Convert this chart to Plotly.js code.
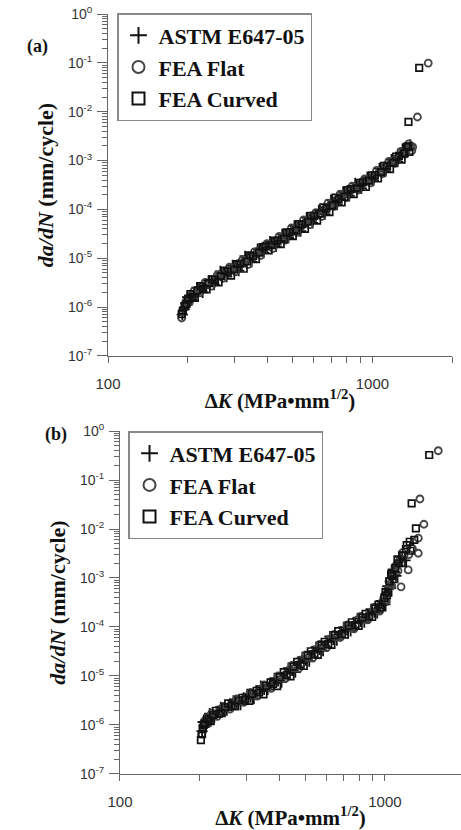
<!DOCTYPE html>
<html>
<head>
<meta charset="utf-8">
<script src="https://cdn.plot.ly/plotly-3.0.1.min.js"></script>
<style>html,body{margin:0;padding:0;background:#fff;}#chart{width:461px;height:830px;}</style>
</head>
<body>
<div id="chart"></div>
<script>
const seriesNames = ["ASTM E647-05", "FEA Flat", "FEA Curved"];

// ---------- Panel (a) : ΔK (MPa·mm^1/2) and da/dN (mm/cycle) ----------
const aAstmK = [191,197,203,212,222,233,246,259,273,288,304,321,339,358,378,399,421,444,468,494,521,549,579,611,644,679,716,755,796,839,885,933,984,1037,1094,1153,1216,1282,1340,
  194,200,207,217,228,240,252,266,281,296,312,330,349,368,388,410,432,456,481,507,535,564,594,627,661,697,735,775,817,861,908,957,1009,1063,1121,1181,1245,1300,1390];
const aAstmY = [7.0e-7,1.2e-6,1.4e-6,1.9e-6,2.3e-6,2.6e-6,3.4e-6,3.8e-6,4.9e-6,5.4e-6,6.8e-6,7.6e-6,9.8e-6,1.15e-5,1.5e-5,1.65e-5,2.0e-5,2.3e-5,2.9e-5,3.5e-5,4.3e-5,5.0e-5,6.2e-5,7.1e-5,8.9e-5,1.1e-4,1.4e-4,1.7e-4,2.2e-4,2.4e-4,3.0e-4,3.5e-4,4.2e-4,5.3e-4,6.5e-4,8.6e-4,1.0e-3,1.3e-3,1.6e-3,
  9.0e-7,1.6e-6,1.4e-6,2.5e-6,2.0e-6,3.5e-6,2.9e-6,5.4e-6,4.2e-6,7.2e-6,5.6e-6,1.1e-5,8.4e-6,1.55e-5,1.3e-5,2.2e-5,1.75e-5,3.1e-5,2.6e-5,4.6e-5,3.6e-5,6.8e-5,5.3e-5,9.6e-5,8.0e-5,1.55e-4,1.25e-4,2.3e-4,1.9e-4,3.4e-4,2.7e-4,4.6e-4,3.9e-4,6.9e-4,6.1e-4,1.05e-3,9.5e-4,1.7e-3,2.1e-3];

const aFlatK = [190,194,199,206,215,225,238,250,264,280,296,312,330,349,368,388,410,432,456,481,507,535,564,594,627,661,697,735,775,817,861,908,957,1009,1063,1121,1181,1245,1300,1350,1395,1420,1480,1626,
  197,203,211,222,233,246,259,273,288,304,321,339,358,378,399,421,444,468,494,521,549,579,611,644,679,716,755,796,839,885,933,984,1037,1094,1153,1216,1282,1330,1372,1410];
const aFlatY = [6.0e-7,9.5e-7,1.25e-6,1.7e-6,1.9e-6,2.6e-6,2.9e-6,3.3e-6,4.6e-6,4.9e-6,6.3e-6,6.8e-6,9.2e-6,1.0e-5,1.4e-5,1.5e-5,1.9e-5,2.1e-5,2.7e-5,3.1e-5,4.0e-5,4.5e-5,5.9e-5,6.4e-5,8.0e-5,9.5e-5,1.3e-4,1.45e-4,2.0e-4,2.2e-4,2.9e-4,3.1e-4,4.0e-4,4.4e-4,6.0e-4,7.0e-4,9.5e-4,1.1e-3,1.5e-3,1.8e-3,2.0e-3,1.9e-3,7.8e-3,9.9e-2,
  1.3e-6,1.25e-6,2.1e-6,1.95e-6,3.2e-6,2.7e-6,4.5e-6,3.9e-6,6.6e-6,5.3e-6,9.0e-6,7.5e-6,1.35e-5,1.15e-5,2.0e-5,1.6e-5,2.8e-5,2.35e-5,4.2e-5,3.4e-5,6.1e-5,4.9e-5,8.6e-5,7.2e-5,1.35e-4,1.15e-4,2.05e-4,1.75e-4,3.0e-4,2.5e-4,4.2e-4,3.5e-4,6.3e-4,5.4e-4,9.6e-4,8.8e-4,1.55e-3,1.35e-3,2.2e-3,1.6e-3];

const aCurvK = [192,195,201,209,218,229,241,254,268,284,300,317,335,354,373,394,415,438,462,487,514,542,571,602,635,670,706,745,785,828,873,920,970,1022,1078,1136,1197,1260,1320,1365,1369,1503,
  190,198,205,213,224,236,248,262,276,292,308,326,344,363,384,405,427,450,474,500,528,556,586,618,652,688,725,765,806,850,897,945,997,1050,1107,1166,1230,1290,1345,1380];
const aCurvY = [8.5e-7,1.05e-6,1.5e-6,1.6e-6,2.2e-6,2.4e-6,3.1e-6,3.6e-6,4.3e-6,5.3e-6,5.9e-6,7.8e-6,8.6e-6,1.1e-5,1.3e-5,1.75e-5,1.85e-5,2.3e-5,2.5e-5,3.4e-5,3.7e-5,5.0e-5,5.6e-5,7.4e-5,8.2e-5,1.05e-4,1.2e-4,1.6e-4,1.8e-4,2.6e-4,2.7e-4,3.6e-4,3.9e-4,5.0e-4,5.8e-4,7.8e-4,9.0e-4,1.25e-3,1.4e-3,1.95e-3,6.2e-3,7.9e-2,
  7.2e-7,1.15e-6,1.85e-6,1.55e-6,2.7e-6,2.3e-6,3.7e-6,3.2e-6,5.6e-6,4.4e-6,7.6e-6,6.1e-6,1.15e-5,9.6e-6,1.7e-5,1.45e-5,2.3e-5,1.95e-5,3.4e-5,2.85e-5,5.0e-5,4.0e-5,7.4e-5,5.9e-5,1.1e-4,8.8e-5,1.75e-4,1.4e-4,2.5e-4,2.05e-4,3.5e-4,2.9e-4,5.0e-4,4.3e-4,7.8e-4,6.7e-4,1.2e-3,1.05e-3,1.9e-3,1.5e-3];

// ---------- Panel (b) ----------
const bAstmK = [204,208,214,222,233,246,260,276,293,311,330,350,372,395,420,446,474,503,534,567,602,639,678,720,764,811,861,913,955,990,1012,1032,1055,1085,1120,1160,
  206,211,218,227,240,253,268,285,302,320,340,361,383,407,432,459,488,518,550,584,620,658,699,742,788,836,887,935,970,1000,1025,1050,1075,1100,1140,1190];
const bAstmY = [7.5e-7,1.0e-6,1.3e-6,1.35e-6,1.9e-6,2.0e-6,2.7e-6,2.8e-6,3.6e-6,3.7e-6,4.9e-6,5.3e-6,7.2e-6,7.9e-6,1.15e-5,1.3e-5,1.95e-5,2.1e-5,3.2e-5,3.5e-5,5.1e-5,5.6e-5,8.0e-5,8.7e-5,1.25e-4,1.3e-4,1.8e-4,2.0e-4,2.8e-4,3.0e-4,4.8e-4,6.0e-4,1.0e-3,1.3e-3,1.8e-3,2.6e-3,
  1.15e-6,9.5e-7,1.7e-6,1.45e-6,2.3e-6,2.0e-6,3.1e-6,2.6e-6,4.2e-6,3.5e-6,6.2e-6,5.3e-6,8.9e-6,7.5e-6,1.45e-5,1.2e-5,2.4e-5,2.0e-5,3.9e-5,3.3e-5,6.4e-5,5.4e-5,9.8e-5,8.3e-5,1.5e-4,1.25e-4,2.3e-4,1.95e-4,3.4e-4,2.9e-4,6.8e-4,6.2e-4,1.5e-3,1.1e-3,2.7e-3,2.3e-3];

const bFlatK = [203,206,211,218,228,240,253,268,285,302,320,340,361,383,407,432,459,488,518,550,584,620,658,699,742,788,836,887,935,970,1000,1025,1050,1080,1110,1139,1180,1224,1336,1355,1403,1589,1150,1270,1336,
  208,214,222,233,246,260,276,293,311,330,350,372,395,420,446,474,503,534,567,602,639,678,720,764,811,861,913,955,990,1012,1035,1060,1090,1120,1165,1230];
const bFlatY = [6.5e-7,9.2e-7,1.15e-6,1.5e-6,1.6e-6,2.1e-6,2.3e-6,2.9e-6,3.1e-6,3.8e-6,3.9e-6,5.3e-6,5.8e-6,7.9e-6,8.6e-6,1.3e-5,1.45e-5,2.15e-5,2.4e-5,3.5e-5,3.9e-5,5.7e-5,6.2e-5,8.6e-5,9.5e-5,1.4e-4,1.45e-4,2.0e-4,2.2e-4,3.1e-4,3.4e-4,5.8e-4,7.5e-4,1.1e-3,1.9e-3,2.3e-3,2.8e-3,1.46e-3,6.5e-3,4.1e-2,1.25e-2,3.96e-1,6.6e-4,4.0e-3,3.2e-3,
  1.2e-6,1.05e-6,1.75e-6,1.5e-6,2.4e-6,2.1e-6,3.4e-6,2.9e-6,4.6e-6,3.9e-6,6.6e-6,5.6e-6,1.0e-5,8.8e-6,1.65e-5,1.45e-5,2.7e-5,2.35e-5,4.4e-5,3.8e-5,7.0e-5,6.1e-5,1.1e-4,9.2e-5,1.65e-4,1.4e-4,2.55e-4,2.1e-4,3.9e-4,3.3e-4,8.5e-4,7.0e-4,1.7e-3,1.4e-3,3.3e-3,3.0e-3];

const bCurvK = [202,205,209,216,225,236,249,264,280,297,315,335,356,378,401,426,452,481,511,542,576,611,648,688,730,775,822,872,920,960,995,1018,1040,1065,1095,1125,1160,1208,1240,1250,1261,1309,1469,1200,
  204,207,213,220,230,242,256,272,290,308,328,348,370,392,415,440,466,494,525,558,592,628,666,706,750,796,845,895,945,978,1005,1030,1055,1085,1115,1170,1290];
const bCurvY = [4.9e-7,8.2e-7,1.05e-6,1.25e-6,1.6e-6,1.7e-6,2.3e-6,2.5e-6,3.2e-6,3.3e-6,4.3e-6,4.6e-6,6.3e-6,6.9e-6,9.5e-6,1.05e-5,1.55e-5,1.7e-5,2.6e-5,2.8e-5,4.2e-5,4.5e-5,6.8e-5,7.2e-5,1.05e-4,1.1e-4,1.55e-4,1.65e-4,2.4e-4,2.5e-4,3.9e-4,4.4e-4,8.5e-4,1.1e-3,1.6e-3,2.0e-3,2.9e-3,4.7e-3,5.5e-3,3.6e-3,3.34e-2,1.03e-2,3.24e-1,3.9e-3,
  6.5e-7,1.0e-6,1.35e-6,1.2e-6,1.95e-6,1.75e-6,2.75e-6,2.4e-6,3.6e-6,3.1e-6,5.0e-6,4.2e-6,7.4e-6,6.2e-6,1.2e-5,9.8e-6,1.95e-5,1.6e-5,3.2e-5,2.7e-5,5.0e-5,4.3e-5,8.2e-5,7.0e-5,1.25e-4,1.05e-4,1.85e-4,1.6e-4,2.85e-4,2.5e-4,5.2e-4,5.0e-4,1.2e-3,9.5e-4,2.4e-3,2.0e-3,6.0e-3];

// ---------- Tick labels ----------
const xMajorVals = [100, 1000];
const xMajorText = ["100", "1000"];
const xMinorVals = [200,300,400,500,600,700,800,900,2000];
const yMajorVals = [1e-7,1e-6,1e-5,1e-4,1e-3,1e-2,1e-1,1];
const yMajorText = ["10<sup>-7</sup>","10<sup>-6</sup>","10<sup>-5</sup>","10<sup>-4</sup>","10<sup>-3</sup>","10<sup>-2</sup>","10<sup>-1</sup>","10<sup>0</sup>"];
const yMinorVals = [];
for (let e = -7; e < 0; e++) { for (let m = 2; m <= 9; m++) yMinorVals.push(m * Math.pow(10, e)); }

const styles = [
  {symbol: "cross-thin-open", size: 8, color: "#111", line: {color: "#111", width: 1.8}},
  {symbol: "circle-open", size: 7, color: "#444", line: {color: "#444", width: 1.8}},
  {symbol: "square-open", size: 6.5, color: "#111", line: {color: "#111", width: 1.7}}
];

function tr(k, y, i, xa, ya, leg) {
  return {x: k, y: y, name: seriesNames[i], type: "scatter", mode: "markers",
          xaxis: xa, yaxis: ya, legend: leg, marker: styles[i], hoverinfo: "x+y+name"};
}

const data = [
  tr(aAstmK, aAstmY, 0, "x", "y", "legend"),
  tr(aFlatK, aFlatY, 1, "x", "y", "legend"),
  tr(aCurvK, aCurvY, 2, "x", "y", "legend"),
  tr(bAstmK, bAstmY, 0, "x2", "y2", "legend2"),
  tr(bFlatK, bFlatY, 1, "x2", "y2", "legend2"),
  tr(bCurvK, bCurvY, 2, "x2", "y2", "legend2")
];

const axisColor = "#666";
const tickFont = {family: "Liberation Sans, Arial, sans-serif", size: 15, color: "#333"};
const titleFont = {family: "Liberation Serif, Times New Roman, serif", size: 21, color: "#111"};
const xTitle = "<b>Δ<i>K</i> (MPa•mm<sup>1/2</sup>)</b>";
const yTitle = "<b><i>da/dN</i> (mm/cycle)</b>";

function xAxis(domain, range, anchor) {
  return {type: "log", domain: domain, range: range, anchor: anchor,
    showline: true, linecolor: axisColor, linewidth: 1, showgrid: false, zeroline: false,
    ticks: "outside", ticklen: 6, tickcolor: axisColor, tickwidth: 1,
    tickmode: "array", tickvals: xMajorVals, ticktext: xMajorText,
    minor: {tickmode: "array", tickvals: xMinorVals, ticks: "outside", ticklen: 6, tickcolor: axisColor, showgrid: false},
    tickfont: tickFont, ticklabelstandoff: 8,
    title: {text: xTitle, font: titleFont, standoff: 2}};
}
function yAxis(domain, anchor, standoff) {
  return {type: "log", domain: domain, range: [-7, 0], anchor: anchor,
    showline: true, linecolor: axisColor, linewidth: 1, showgrid: false, zeroline: false,
    ticks: "outside", ticklen: 10, tickcolor: axisColor, tickwidth: 1,
    tickmode: "array", tickvals: yMajorVals, ticktext: yMajorText,
    minor: {tickmode: "array", tickvals: yMinorVals, ticks: "outside", ticklen: 5, tickcolor: axisColor, showgrid: false},
    tickfont: {family: tickFont.family, size: 14, color: "#333"}, ticklabelstandoff: 2,
    title: {text: yTitle, font: {family: titleFont.family, size: 22, color: "#111"}, standoff: standoff}};
}

const legendBase = {xref: "paper", yref: "paper", xanchor: "left", yanchor: "top",
  bgcolor: "#fff", bordercolor: "#888", borderwidth: 1.5, itemsizing: "constant",
  font: {family: "Liberation Serif, Times New Roman, serif", size: 22, color: "#111", weight: "bold"},
  tracegroupgap: 0};

const layout = {
  width: 461, height: 830,
  margin: {l: 0, r: 0, t: 0, b: 0},
  paper_bgcolor: "#fff", plot_bgcolor: "#fff",
  showlegend: true,
  xaxis: xAxis([0.2343, 0.9805], [2, Math.log10(2000)], "y"),
  yaxis: yAxis([0.5711, 0.9831], "x", 8),
  xaxis2: xAxis([0.2603, 1.0], [2, 3.287], "y2"),
  yaxis2: yAxis([0.0675, 0.4807], "x2", 8),
  legend: Object.assign({}, legendBase, {x: 0.2538, y: 0.9843}),
  legend2: Object.assign({}, legendBase, {x: 0.2777, y: 0.4807}),
  annotations: [
    {text: "<b>(a)</b>", xref: "paper", yref: "paper", x: 0.054, y: 0.959, showarrow: false,
     font: {family: "Liberation Serif, serif", size: 18, color: "#111"}},
    {text: "<b>(b)</b>", xref: "paper", yref: "paper", x: 0.093, y: 0.476, showarrow: false,
     font: {family: "Liberation Serif, serif", size: 18, color: "#111"}}
  ]
};

Plotly.newPlot("chart", data, layout, {displayModeBar: false, staticPlot: true});
</script>
</body>
</html>
